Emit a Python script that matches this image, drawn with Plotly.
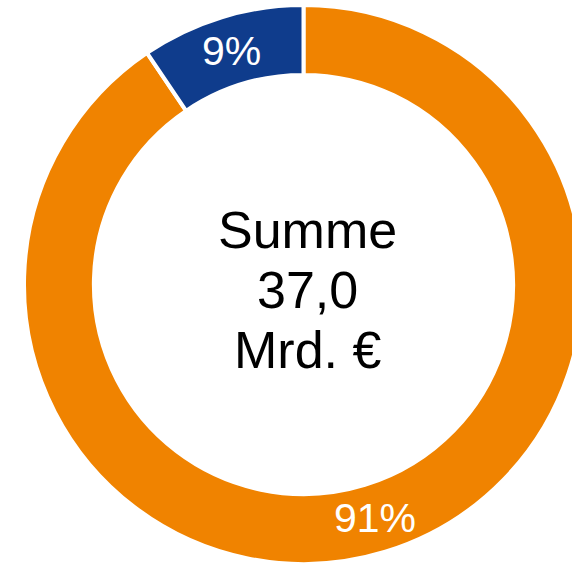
import math
import plotly.graph_objects as go

labels = ["Anteil A", "Anteil B"]
values = [33.5, 3.5]           # Mrd. €
text_labels = ["91%", "9%"]
colors = ["#F08300", "#0F3C8C"]
center_lines = ["Summe", "37,0", "Mrd. €"]

W, H = 607, 564
HOLE = 0.75
dom_y = [0, 559 / 564]

fig = go.Figure(go.Pie(
    labels=labels,
    values=values,
    textinfo="none",
    sort=False,
    direction="clockwise",
    rotation=0,
    hole=HOLE,
    marker=dict(colors=colors, line=dict(color="white", width=4)),
    domain=dict(x=[0, 1], y=dom_y),
    showlegend=False,
    hoverinfo="skip",
))

# pie geometry in paper coordinates (derived from the domain)
dom_h_px = (dom_y[1] - dom_y[0]) * H
r_out = dom_h_px / 2
cx_px = W / 2
cy_px = (dom_y[0] + dom_y[1]) / 2 * H  # from bottom
r_mid = r_out * (1 + HOLE) / 2

total = sum(values)
start = 0.0
for v, t in zip(values, text_labels):
    mid = (start + v / 2) / total * 2 * math.pi
    start += v
    x_px = cx_px + r_mid * math.sin(mid)
    y_px = cy_px + r_mid * math.cos(mid)
    fig.add_annotation(
        text=t, x=x_px / W, y=y_px / H, xref="paper", yref="paper",
        xanchor="center", yanchor="middle", showarrow=False,
        font=dict(family="Liberation Sans, Arial, sans-serif", size=41, color="white"),
    )

line_gap = 60
for i, line in enumerate(center_lines):
    y_px = cy_px - 5 + (1 - i) * line_gap
    fig.add_annotation(
        text=line, x=(cx_px + 4) / W, y=y_px / H, xref="paper", yref="paper",
        xanchor="center", yanchor="middle", showarrow=False,
        font=dict(family="Liberation Sans, Arial, sans-serif", size=52, color="black"),
    )

fig.update_layout(
    width=W, height=H,
    margin=dict(l=0, r=0, t=0, b=0),
    paper_bgcolor="white",
    plot_bgcolor="white",
)

fig.write_html(
    "out.html",
    config={"displayModeBar": False},
    post_script="document.body.style.margin='0';document.body.style.overflow='hidden';",
)
